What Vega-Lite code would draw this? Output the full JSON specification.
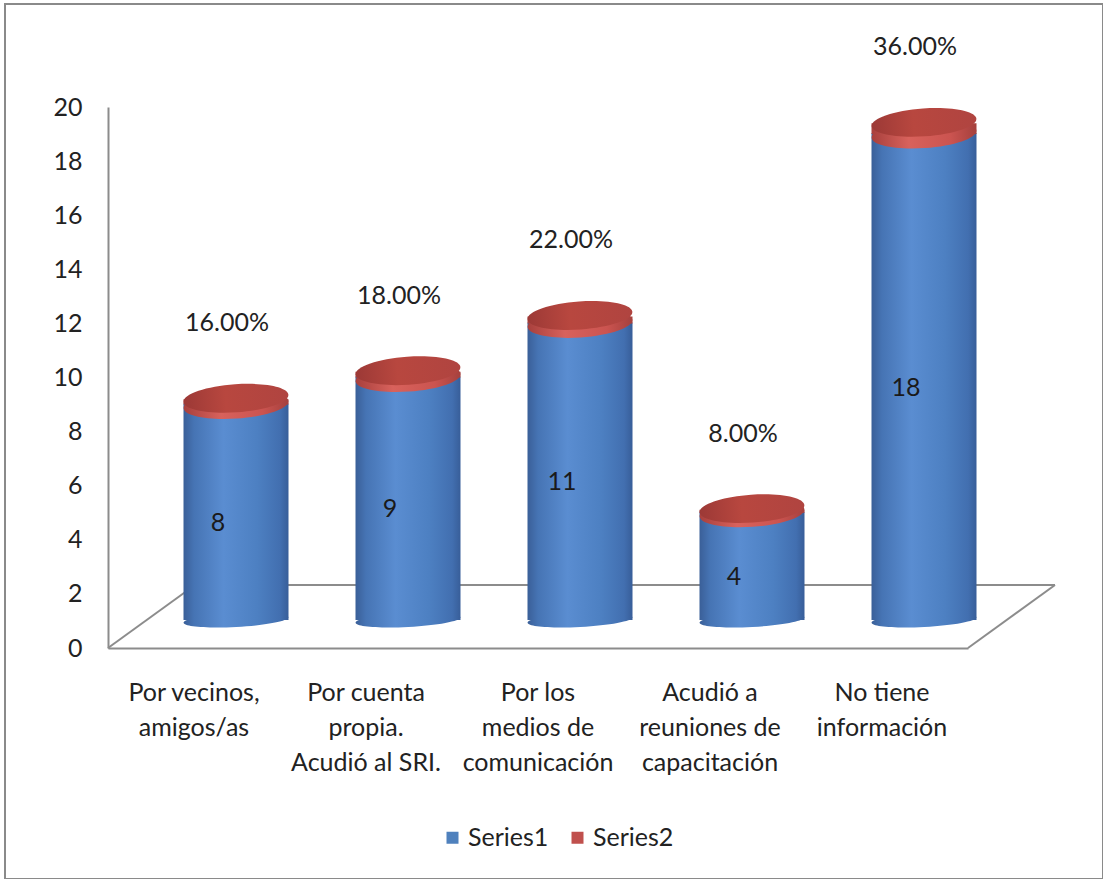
{
  "$schema": "https://vega.github.io/schema/vega-lite/v6.json",
  "autosize": "none",
  "padding": {"left": 5, "top": 4, "right": 0, "bottom": 0},
  "width": 1098,
  "height": 875,
  "background": "white",
  "config": {
    "font": "Lato",
    "view": {"stroke": "#8a8a8a", "strokeWidth": 2},
    "axis": {"labelFont": "Lato", "labelColor": "#222222", "labelFontSize": 25, "grid": false, "ticks": false, "domainColor": "#8c8c8c", "domainWidth": 2, "title": null},
    "legend": {"labelFont": "Lato", "labelFontSize": 25, "labelColor": "#222222"}
  },
  "datasets": {
    "encuesta": [
      {"categoria": "Por vecinos,\namigos/as", "serie": "Series1", "valor": 8},
      {"categoria": "Por cuenta\npropia.\nAcudió al SRI.", "serie": "Series1", "valor": 9},
      {"categoria": "Por los\nmedios de\ncomunicación", "serie": "Series1", "valor": 11},
      {"categoria": "Acudió a\nreuniones de\ncapacitación", "serie": "Series1", "valor": 4},
      {"categoria": "No tiene\ninformación", "serie": "Series1", "valor": 18},
      {"categoria": "Por vecinos,\namigos/as", "serie": "Series2", "valor": 0.16},
      {"categoria": "Por cuenta\npropia.\nAcudió al SRI.", "serie": "Series2", "valor": 0.18},
      {"categoria": "Por los\nmedios de\ncomunicación", "serie": "Series2", "valor": 0.22},
      {"categoria": "Acudió a\nreuniones de\ncapacitación", "serie": "Series2", "valor": 0.08},
      {"categoria": "No tiene\ninformación", "serie": "Series2", "valor": 0.36}
    ]
  },
  "resolve": {"scale": {"x": "independent", "y": "independent"}},
  "layer": [
    {
      "data": {"values": [{}]},
      "encoding": {
        "x": {"datum": 0, "type": "quantitative", "scale": {"domain": [0, 1], "range": [103, 963], "nice": false, "zero": false}, "axis": null},
        "y": {"datum": 0, "type": "quantitative", "scale": {"domain": [0, 20], "range": [644, 103], "nice": false}, "axis": null}
      },
      "layer": [
        {
          "mark": {"type": "rule", "color": "#8c8c8c", "strokeWidth": 2, "xOffset": 87, "x2Offset": 87, "yOffset": -63, "y2Offset": -63},
          "encoding": {"x2": {"datum": 1}, "y2": {"datum": 0}}
        },
        {
          "mark": {"type": "rule", "color": "#8c8c8c", "strokeWidth": 2, "x2Offset": 87, "y2Offset": -63},
          "encoding": {"x2": {"datum": 0}, "y2": {"datum": 0}}
        },
        {
          "mark": {"type": "rule", "color": "#8c8c8c", "strokeWidth": 2, "x2Offset": 87, "y2Offset": -63},
          "encoding": {"x": {"datum": 1, "type": "quantitative"}, "x2": {"datum": 1}, "y2": {"datum": 0}}
        }
      ]
    },
    {
      "data": {"name": "encuesta"},
      "encoding": {
        "x": {
          "field": "categoria",
          "type": "nominal",
          "sort": null,
          "scale": {
            "domain": ["Por vecinos,\namigos/as", "Por cuenta\npropia.\nAcudió al SRI.", "Por los\nmedios de\ncomunicación", "Acudió a\nreuniones de\ncapacitación", "No tiene\ninformación"],
            "range": [103, 963],
            "paddingInner": 0,
            "paddingOuter": 0
          },
          "axis": {
            "orient": "bottom",
            "offset": -231,
            "labelAngle": 0,
            "labelPadding": 32,
            "labelBaseline": "top",
            "labelLineHeight": 35,
            "labelLimit": 0,
            "labelExpr": "split(datum.label, '\\n')"
          }
        }
      },
      "resolve": {"scale": {"y": "independent"}},
      "layer": [
        {
          "transform": [
            {"stack": "valor", "groupby": ["categoria"], "sort": [{"field": "serie", "order": "ascending"}], "as": ["base", "tope"]}
          ],
          "encoding": {
            "y": {
              "field": "tope",
              "type": "quantitative",
              "scale": {"domain": [0, 20], "range": [644, 103], "nice": false},
              "axis": {"orient": "left", "offset": -103, "values": [0, 2, 4, 6, 8, 10, 12, 14, 16, 18, 20], "labelPadding": 26}
            }
          },
          "layer": [
            {
              "transform": [{"filter": {"field": "serie", "equal": "Series1"}}],
              "mark": {
                "type": "point",
                "shape": "M-1,0C-1,-0.0737,-0.5523,-0.133,0,-0.133C0.5523,-0.133,1,-0.0737,1,0C1,0.0737,0.5523,0.133,0,0.133C-0.5523,0.133,-1,0.0737,-1,0Z",
                "size": 11025,
                "filled": true,
                "opacity": 1,
                "strokeWidth": 0,
                "angle": -3,
                "xOffset": 42,
                "yOffset": -28,
                "fill": {"gradient": "linear", "x1": 0, "y1": 0, "x2": 1, "y2": 0, "stops": [{"offset": 0, "color": "#3a5f98"}, {"offset": 0.1, "color": "#4674b4"}, {"offset": 0.38, "color": "#5a8dd1"}, {"offset": 0.7, "color": "#4d80c2"}, {"offset": 0.92, "color": "#426fb0"}, {"offset": 1, "color": "#385e99"}]}
              },
              "encoding": {"y": {"field": "base", "type": "quantitative"}}
            },
            {
              "transform": [{"filter": {"field": "serie", "equal": "Series1"}}],
              "mark": {
                "type": "bar",
                "width": 105,
                "xOffset": 42,
                "yOffset": -28,
                "y2Offset": -28,
                "color": {"gradient": "linear", "x1": 0, "y1": 0, "x2": 1, "y2": 0, "stops": [{"offset": 0, "color": "#3a5f98"}, {"offset": 0.1, "color": "#4674b4"}, {"offset": 0.38, "color": "#5a8dd1"}, {"offset": 0.7, "color": "#4d80c2"}, {"offset": 0.92, "color": "#426fb0"}, {"offset": 1, "color": "#385e99"}]}
              },
              "encoding": {"y2": {"field": "base"}}
            },
            {
              "transform": [{"filter": {"field": "serie", "equal": "Series2"}}],
              "mark": {
                "type": "point",
                "shape": "M-1,0C-1,-0.1475,-0.5523,-0.267,0,-0.267C0.5523,-0.267,1,-0.1475,1,0C1,0.1475,0.5523,0.267,0,0.267C-0.5523,0.267,-1,0.1475,-1,0Z",
                "size": 11025,
                "filled": true,
                "opacity": 1,
                "strokeWidth": 0,
                "angle": -4,
                "xOffset": 42,
                "yOffset": -27,
                "fill": {"gradient": "linear", "x1": 0, "y1": 0, "x2": 1, "y2": 0, "stops": [{"offset": 0, "color": "#a8403d"}, {"offset": 0.35, "color": "#d8625c"}, {"offset": 0.75, "color": "#cb5450"}, {"offset": 1, "color": "#a5403d"}]}
              },
              "encoding": {"y": {"field": "base", "type": "quantitative"}}
            },
            {
              "transform": [{"filter": {"field": "serie", "equal": "Series2"}}],
              "mark": {
                "type": "bar",
                "width": 105,
                "xOffset": 42,
                "yOffset": -28,
                "y2Offset": -27,
                "color": {"gradient": "linear", "x1": 0, "y1": 0, "x2": 1, "y2": 0, "stops": [{"offset": 0, "color": "#a8403d"}, {"offset": 0.35, "color": "#d8625c"}, {"offset": 0.75, "color": "#cb5450"}, {"offset": 1, "color": "#a5403d"}]}
              },
              "encoding": {"y2": {"field": "base"}}
            },
            {
              "transform": [{"filter": {"field": "serie", "equal": "Series2"}}],
              "mark": {
                "type": "point",
                "shape": "M-1,0C-1,-0.1475,-0.5523,-0.267,0,-0.267C0.5523,-0.267,1,-0.1475,1,0C1,0.1475,0.5523,0.267,0,0.267C-0.5523,0.267,-1,0.1475,-1,0Z",
                "size": 11025,
                "filled": true,
                "opacity": 1,
                "strokeWidth": 0,
                "angle": -4,
                "xOffset": 42,
                "yOffset": -29,
                "fill": {"gradient": "linear", "x1": 0, "y1": 0, "x2": 1, "y2": 0, "stops": [{"offset": 0, "color": "#9c3936"}, {"offset": 0.4, "color": "#b8473f"}, {"offset": 1, "color": "#b04440"}]}
              }
            },
            {
              "transform": [{"filter": {"field": "serie", "equal": "Series2"}}],
              "mark": {"type": "text", "fontSize": 25, "color": "#222222", "baseline": "middle", "align": "center", "xOffset": 33, "yOffset": -104},
              "encoding": {"text": {"field": "valor", "type": "quantitative", "format": ".2%"}}
            },
            {
              "mark": {"type": "text", "text": ""},
              "encoding": {
                "color": {
                  "field": "serie",
                  "type": "nominal",
                  "scale": {"domain": ["Series1", "Series2"], "range": ["#4f81bd", "#c0504d"]},
                  "legend": {"orient": "none", "legendX": 435, "legendY": 821, "direction": "horizontal", "title": null, "symbolType": "square", "symbolSize": 144, "symbolStrokeWidth": 0, "symbolOpacity": 1, "labelOffset": 3, "columnPadding": 16}
                }
              }
            }
          ]
        },
        {
          "transform": [{"filter": {"field": "serie", "equal": "Series1"}}],
          "mark": {"type": "text", "fontSize": 25, "color": "#1a1a1a", "baseline": "middle", "align": "center", "xOffset": 24, "yOffset": -17},
          "encoding": {
            "y": {"field": "valor", "type": "quantitative", "scale": {"domain": [0, 40], "range": [644, 103], "nice": false}, "axis": null},
            "text": {"field": "valor", "type": "quantitative"}
          }
        }
      ]
    }
  ]
}
